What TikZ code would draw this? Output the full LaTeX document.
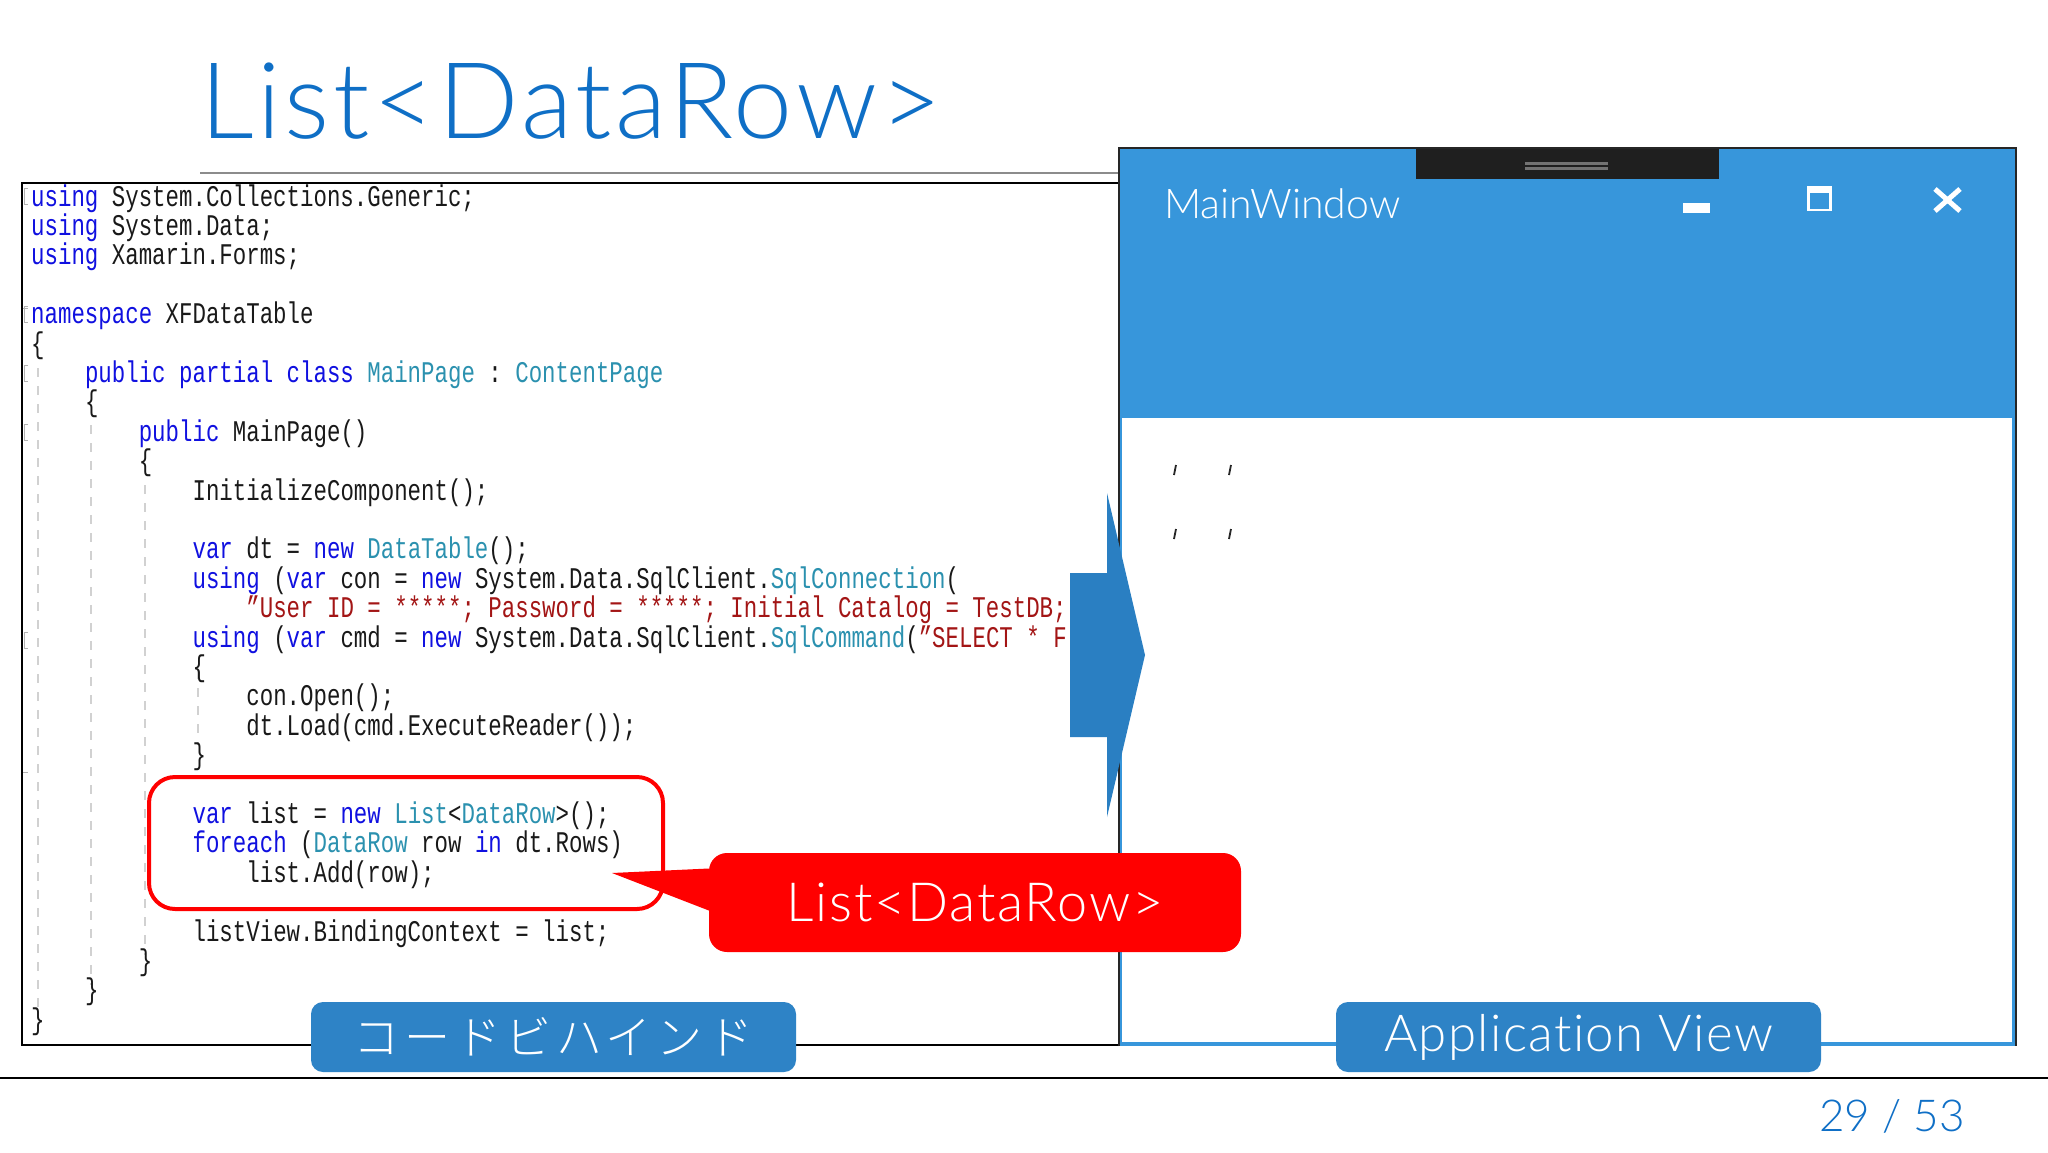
\documentclass[tikz,border=0pt]{standalone}
\usepackage{fontspec}
\setmainfont{Lato Light}
\setmonofont[FakeStretch=0.747]{Liberation Mono}
\newfontfamily\cjkfont[LetterSpace=10]{Noto Sans CJK JP Light}
\newfontfamily\lightfont{Lato Light}
\newfontfamily\titlefont[LetterSpace=3.4,Ligatures=NoCommon]{Lato Light}
\newfontfamily\spacedfont[LetterSpace=3.2,Ligatures=NoCommon]{Lato Light}
\newfontfamily\appfont[LetterSpace=2.6,Ligatures=NoCommon]{Lato Light}
\definecolor{kwc}{HTML}{1010E0}
\definecolor{tyc}{HTML}{2B91AF}
\definecolor{stc}{HTML}{A31515}
\definecolor{titlec}{HTML}{0F6FC6}
\definecolor{winblue}{HTML}{3796DB}
\definecolor{tagblue}{HTML}{2E83C6}
\definecolor{arrowblue}{HTML}{2A7FC2}
\newcommand\kw[1]{\textcolor{kwc}{#1}}
\newcommand\ty[1]{\textcolor{tyc}{#1}}
\newcommand\st[1]{\textcolor{stc}{#1}}
\newcommand\cl[3]{\node[codeline] (line#2) at ({31+13.45*#1},{206+29.4*#2}) {#3};}
\tikzset{
 codeline/.style={anchor=base west,inner sep=0pt,font=\ttfamily\fontsize{30}{30}\selectfont,text=black!90},
 guide/.style={draw=black!18,line width=1.2pt,dash pattern=on 9pt off 9pt},
 fold/.style={draw=black!30,line width=1pt},
 tagbox/.style={fill=tagblue,rounded corners=12pt,minimum width=485pt,minimum height=70pt,inner sep=0pt,text=white},
 tick/.style={draw=black!85,line width=1.8pt},
}
\begin{document}
\begin{tikzpicture}[x=1pt,y=-1pt]
\useasboundingbox (0,0) rectangle (2048,1152);
\fill[white] (0,0) rectangle (2048,1152);
% title
\node[anchor=base west,inner sep=0pt,text=titlec,font=\titlefont\fontsize{106}{106}\selectfont] (title) at (200,138.5) {List<DataRow>};
\coordinate (ruleA) at (200,173); \coordinate (ruleB) at (1118,173);
\draw[black!45,line width=1.5pt] (ruleA) -- (ruleB);
% code box
\draw[black,line width=2pt] (1118,183) -- (22,183) -- (22,1045) -- (1118,1045);
% indent guides
\draw[guide] (38,368) -- (38,1012);
\draw[guide] (91,425) -- (91,985);
\draw[guide] (145,485) -- (145,955);
\draw[guide] (198,670) -- (198,745);
% fold marks
\foreach \y in {196,314,373,432,640} \draw[fold] (28,\y-8) -- (24,\y-8) -- (24,\y+8) -- (28,\y+8);
\draw[fold] (23,308) -- (28,308);
\draw[fold] (23,772) -- (28,772);
% code
\cl{0}{0}{\kw{using} System.Collections.Generic;}
\cl{0}{1}{\kw{using} System.Data;}
\cl{0}{2}{\kw{using} Xamarin.Forms;}
\cl{0}{4}{\kw{namespace} XFDataTable}
\cl{0}{5}{\{}
\cl{4}{6}{\kw{public partial class} \ty{MainPage} : \ty{ContentPage}}
\cl{4}{7}{\{}
\cl{8}{8}{\kw{public} MainPage()}
\cl{8}{9}{\{}
\cl{12}{10}{InitializeComponent();}
\cl{12}{12}{\kw{var} dt = \kw{new} \ty{DataTable}();}
\cl{12}{13}{\kw{using} (\kw{var} con = \kw{new} System.Data.SqlClient.\ty{SqlConnection}(}
\cl{16}{14}{\st{”User ID = *****; Password = *****; Initial Catalog = TestDB;}}
\cl{12}{15}{\kw{using} (\kw{var} cmd = \kw{new} System.Data.SqlClient.\ty{SqlCommand}(\st{”SELECT * F}}
\cl{12}{16}{\{}
\cl{16}{17}{con.Open();}
\cl{16}{18}{dt.Load(cmd.ExecuteReader());}
\cl{12}{19}{\}}
\cl{12}{21}{\kw{var} list = \kw{new} \ty{List}<\ty{DataRow}>();}
\cl{12}{22}{\kw{foreach} (\ty{DataRow} row \kw{in} dt.Rows)}
\cl{16}{23}{list.Add(row);}
\cl{12}{25}{listView.BindingContext = list;}
\cl{8}{26}{\}}
\cl{4}{27}{\}}
\cl{0}{28}{\}}
% window
\fill[winblue] (1118,148) rectangle (2016,1046);
\fill[white] (1122,418) rectangle (2012,1042);
\draw[black!85,line width=1.5pt] (1119,1046) -- (1119,148) -- (2016,148) -- (2016,1046);
\fill[black!88] (1416,149) rectangle (1719,179);
\fill[black!55] (1525,162) rectangle (1608,165);
\fill[black!55] (1525,167) rectangle (1608,170);
\node[anchor=base west,inner sep=0pt,text=white,font=\lightfont\fontsize{41}{41}\selectfont] (winTitle) at (1164,218) {MainWindow};
\fill[white] (1683,203) rectangle (1710,213);
\draw[white,line width=2.5pt] (1808.5,187.5) rectangle (1830.5,210);
\fill[white] (1807,186) rectangle (1832,193);
\draw[white,line width=5pt] (1935,189) -- (1960,211) (1960,189) -- (1935,211);
\draw[tick] (1176,465) -- (1174,475);
\draw[tick] (1231,465) -- (1229,475);
\draw[tick] (1176,529) -- (1174,539);
\draw[tick] (1231,529) -- (1229,539);
% red box
\node[draw=red,line width=4pt,rounded corners=26pt,minimum width=514pt,minimum height=132pt,inner sep=0pt] (redbox) at (406,843) {};
% arrow
\fill[arrowblue] (1070,573) -- (1107,573) -- (1107,493) -- (1145,655) -- (1107,817) -- (1107,737) -- (1070,737) -- cycle;
% callout
\node[fill=red,rounded corners=18pt,minimum width=532pt,minimum height=99pt,inner sep=0pt,text=white,font=\spacedfont\fontsize{54}{54}\selectfont] (callout) at (975,902.5) {List<DataRow>};
\coordinate (calloutTip) at (612,873);
\fill[red] ([yshift=34pt]callout.west) -- (calloutTip) -- ([yshift=-8pt]callout.west) -- cycle;
% tags
\node[tagbox,font=\cjkfont\fontsize{46}{46}\selectfont] (tagCode) at (553.5,1037) {コードビハインド};
\node[tagbox,font=\appfont\fontsize{51}{51}\selectfont] (tagApp) at (1578.5,1037) {Application View};
% footer
\coordinate (footA) at (0,1078); \coordinate (footB) at (2048,1078);
\draw[black,line width=2pt] (footA) -- (footB);
\node[anchor=base,inner sep=0pt,text=titlec,font=\lightfont\fontsize{44}{44}\selectfont] (pageNum) at (1892,1131) {29 / 53};
\end{tikzpicture}
\end{document}
